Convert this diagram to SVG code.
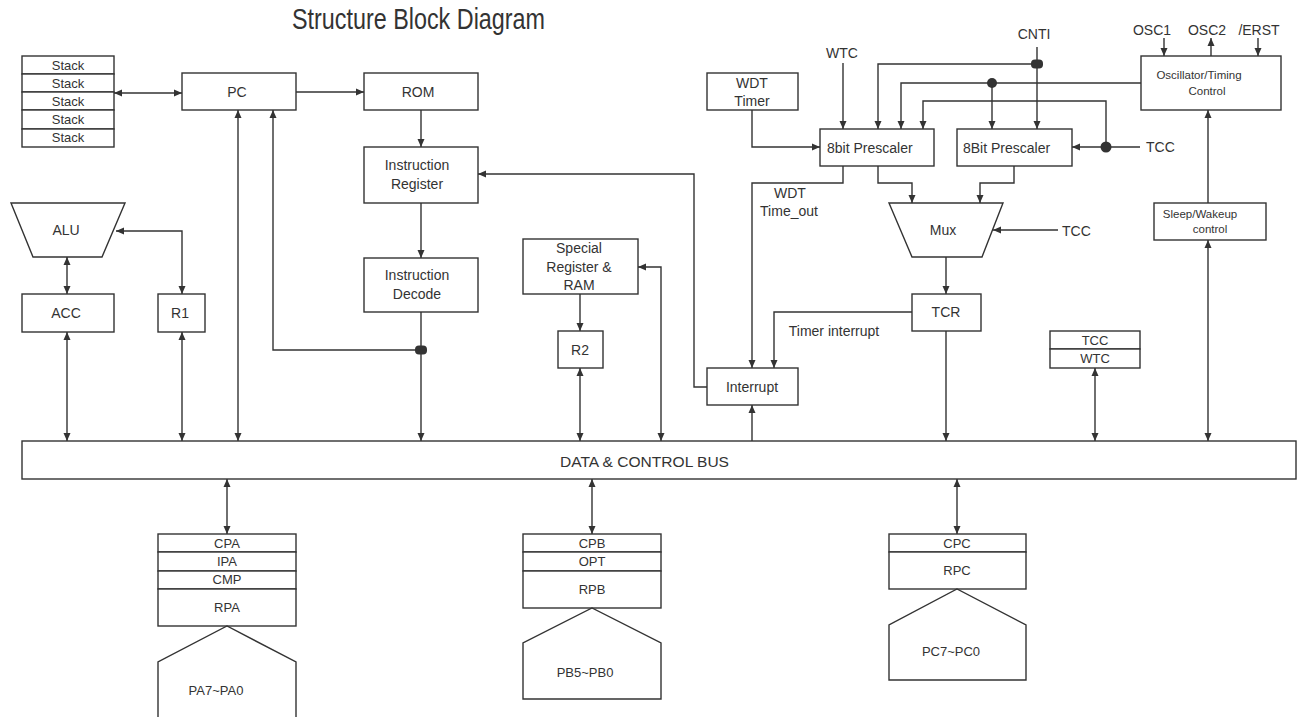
<svg xmlns="http://www.w3.org/2000/svg" width="1306" height="717" viewBox="0 0 1306 717">
<style>
text{font-family:"Liberation Sans",Arial,sans-serif;font-size:14px;fill:#333;text-anchor:middle;dominant-baseline:central}
.s{font-size:13px}
.xs{font-size:11.5px}
.b{fill:#fff;stroke:#333;stroke-width:1.4}
.c{fill:none;stroke:#333;stroke-width:1.4}
.e{marker-end:url(#ah)}
.d{marker-start:url(#ah);marker-end:url(#ah)}
.dot{fill:#333}
</style>
<defs>
<marker id="ah" viewBox="0 0 8 8" refX="8" refY="4" markerWidth="8" markerHeight="8" markerUnits="userSpaceOnUse" orient="auto-start-reverse"><path d="M0,0.5 L8,4 L0,7.5 z" fill="#333"/></marker>
</defs>
<rect width="1306" height="717" fill="#fff"/>
<text x="292" y="19" style="font-size:29px;text-anchor:start" textLength="253" lengthAdjust="spacingAndGlyphs">Structure Block Diagram</text>

<g id="stack">
<rect class="b" x="22" y="56" width="92" height="18"/><text class="s" x="68" y="65">Stack</text>
<rect class="b" x="22" y="74" width="92" height="18"/><text class="s" x="68" y="83">Stack</text>
<rect class="b" x="22" y="92" width="92" height="18"/><text class="s" x="68" y="101">Stack</text>
<rect class="b" x="22" y="110" width="92" height="19"/><text class="s" x="68" y="119.5">Stack</text>
<rect class="b" x="22" y="129" width="92" height="18"/><text class="s" x="68" y="137.5">Stack</text>
</g>
<g id="pc"><rect class="b" x="182" y="73" width="114" height="37"/><text x="237" y="92">PC</text></g>
<g id="rom"><rect class="b" x="364" y="73" width="114" height="37"/><text x="418" y="92">ROM</text></g>
<g id="ir"><rect class="b" x="364" y="147" width="114" height="56"/><text x="417" y="165">Instruction</text><text x="417" y="184">Register</text></g>
<g id="id"><rect class="b" x="364" y="258" width="114" height="54"/><text x="417" y="275">Instruction</text><text x="417" y="294">Decode</text></g>
<g id="alu"><polygon class="b" points="11,203 125,203 102,257 33,257"/><text x="66" y="230">ALU</text></g>
<g id="acc"><rect class="b" x="22" y="294" width="92" height="38"/><text x="66" y="313">ACC</text></g>
<g id="r1"><rect class="b" x="158" y="294" width="47" height="38"/><text x="180" y="313">R1</text></g>
<g id="sr"><rect class="b" x="523" y="239" width="115" height="55"/><text x="579" y="248">Special</text><text x="579" y="267">Register &amp;</text><text x="579" y="285">RAM</text></g>
<g id="r2"><rect class="b" x="558" y="331" width="45" height="37"/><text x="580" y="350">R2</text></g>
<g id="interrupt"><rect class="b" x="707" y="368" width="91" height="37"/><text x="752" y="387">Interrupt</text></g>
<g id="wdt"><rect class="b" x="707" y="73" width="91" height="37"/><text x="752" y="83">WDT</text><text x="752" y="101">Timer</text></g>
<g id="p1"><rect class="b" x="820" y="129" width="114" height="37"/><text x="827" y="148" style="text-anchor:start">8bit Prescaler</text></g>
<g id="p2"><rect class="b" x="957" y="129" width="115" height="37"/><text x="963" y="148" style="text-anchor:start">8Bit Prescaler</text></g>
<g id="mux"><polygon class="b" points="889,203 1003,203 982,257 912,257"/><text x="943" y="230">Mux</text></g>
<g id="tcr"><rect class="b" x="912" y="294" width="69" height="37"/><text x="946" y="312">TCR</text></g>
<g id="osc"><rect class="b" x="1141" y="56" width="140" height="54"/><text class="xs" x="1199" y="75">Oscillator/Timing</text><text class="xs" x="1207" y="91">Control</text></g>
<g id="sleep"><rect class="b" x="1154" y="203" width="112" height="37"/><text class="xs" x="1200" y="214">Sleep/Wakeup</text><text class="xs" x="1210" y="229">control</text></g>
<g id="tccwtc"><rect class="b" x="1050" y="331" width="90" height="18"/><text class="s" x="1095" y="340">TCC</text><rect class="b" x="1050" y="349" width="90" height="19"/><text class="s" x="1095" y="358">WTC</text></g>
<g id="bus"><rect class="b" x="22" y="441" width="1274" height="38"/><text x="560" y="462" style="text-anchor:start" textLength="169" lengthAdjust="spacingAndGlyphs">DATA &amp; CONTROL BUS</text></g>
<g id="porta">
<rect class="b" x="158" y="534" width="138" height="18"/><text class="s" x="227" y="543">CPA</text>
<rect class="b" x="158" y="552" width="138" height="19"/><text class="s" x="227" y="561">IPA</text>
<rect class="b" x="158" y="571" width="138" height="18"/><text class="s" x="227" y="579">CMP</text>
<rect class="b" x="158" y="589" width="138" height="37"/><text class="s" x="227" y="607">RPA</text>
<polyline class="c" points="158,717 158,662 227,626 296,662 296,717"/>
<text class="s" x="216" y="690">PA7~PA0</text>
</g>
<g id="portb">
<rect class="b" x="523" y="534" width="138" height="18"/><text class="s" x="592" y="543">CPB</text>
<rect class="b" x="523" y="552" width="138" height="19"/><text class="s" x="592" y="561">OPT</text>
<rect class="b" x="523" y="571" width="138" height="37"/><text class="s" x="592" y="589">RPB</text>
<polygon class="c" points="523,699 523,643 592,608 661,643 661,699"/>
<text class="s" x="585" y="672">PB5~PB0</text>
</g>
<g id="portc">
<rect class="b" x="889" y="534" width="137" height="18"/><text class="s" x="957" y="543">CPC</text>
<rect class="b" x="889" y="552" width="137" height="37"/><text class="s" x="957" y="570">RPC</text>
<polygon class="c" points="889,680 889,625 957,589 1026,625 1026,680"/>
<text class="s" x="951" y="651">PC7~PC0</text>
</g>
<g id="labels">
<text x="842" y="53">WTC</text>
<text x="1034" y="34">CNTI</text>
<text x="1152" y="30">OSC1</text>
<text x="1207" y="30">OSC2</text>
<text x="1259" y="30">/ERST</text>
<text x="1146" y="147" style="text-anchor:start">TCC</text>
<text x="1062" y="231" style="text-anchor:start">TCC</text>
<text x="790" y="193">WDT</text>
<text x="789" y="211">Time_out</text>
<text x="834" y="331">Timer interrupt</text>
</g>
<g id="connectors">
<line class="c d" x1="114" y1="93" x2="182" y2="93"/>
<line class="c e" x1="296" y1="92" x2="364" y2="92"/>
<line class="c e" x1="421" y1="110" x2="421" y2="147"/>
<line class="c e" x1="421" y1="203" x2="421" y2="258"/>
<line class="c e" x1="421" y1="312" x2="421" y2="441"/>
<polyline class="c e" points="421,350 273,350 273,110"/>
<rect class="dot" x="415" y="345.5" width="12" height="9" rx="4"/>
<line class="c d" x1="238" y1="110" x2="238" y2="441"/>
<line class="c d" x1="67" y1="257" x2="67" y2="294"/>
<polyline class="c d" points="116,231 182,231 182,294"/>
<line class="c d" x1="67" y1="332" x2="67" y2="441"/>
<line class="c d" x1="182" y1="332" x2="182" y2="441"/>
<line class="c e" x1="580" y1="294" x2="580" y2="331"/>
<line class="c d" x1="580" y1="368" x2="580" y2="441"/>
<polyline class="c d" points="638,267 661,267 661,441"/>
<polyline class="c e" points="707,387 694,387 694,174 478,174"/>
<line class="c e" x1="752" y1="441" x2="752" y2="405"/>
<polyline class="c e" points="843,166 843,183 752,183 752,368"/>
<polyline class="c e" points="912,312 774,312 774,368"/>
<line class="c e" x1="946" y1="331" x2="946" y2="441"/>
<line class="c e" x1="946" y1="257" x2="946" y2="294"/>
<polyline class="c e" points="878,166 878,183 912,183 912,203"/>
<polyline class="c e" points="1014,166 1014,183 980,183 980,203"/>
<line class="c e" x1="1058" y1="230" x2="993" y2="230"/>
<polyline class="c e" points="752,110 752,147 820,147"/>
<line class="c e" x1="843" y1="63" x2="843" y2="129"/>
<line class="c e" x1="1037" y1="47" x2="1037" y2="129"/>
<polyline class="c e" points="1037,64 878,64 878,129"/>
<rect class="dot" x="1031" y="59.5" width="12" height="9" rx="4"/>
<polyline class="c e" points="1141,83 901,83 901,129"/>
<line class="c e" x1="992" y1="83" x2="992" y2="129"/>
<circle class="dot" cx="992" cy="83" r="5"/>
<polyline class="c e" points="1106,147 1106,101 923,101 923,129"/>
<line class="c e" x1="1140" y1="147" x2="1072" y2="147"/>
<circle class="dot" cx="1106" cy="147" r="5.5"/>
<line class="c e" x1="1164" y1="38" x2="1164" y2="56"/>
<line class="c e" x1="1211" y1="56" x2="1211" y2="38"/>
<line class="c e" x1="1258" y1="38" x2="1258" y2="56"/>
<line class="c e" x1="1208" y1="203" x2="1208" y2="110"/>
<line class="c d" x1="1208" y1="240" x2="1208" y2="441"/>
<line class="c d" x1="1095" y1="368" x2="1095" y2="441"/>
<line class="c d" x1="227" y1="479" x2="227" y2="534"/>
<line class="c d" x1="592" y1="479" x2="592" y2="534"/>
<line class="c d" x1="957" y1="479" x2="957" y2="534"/>
</g>
</svg>
